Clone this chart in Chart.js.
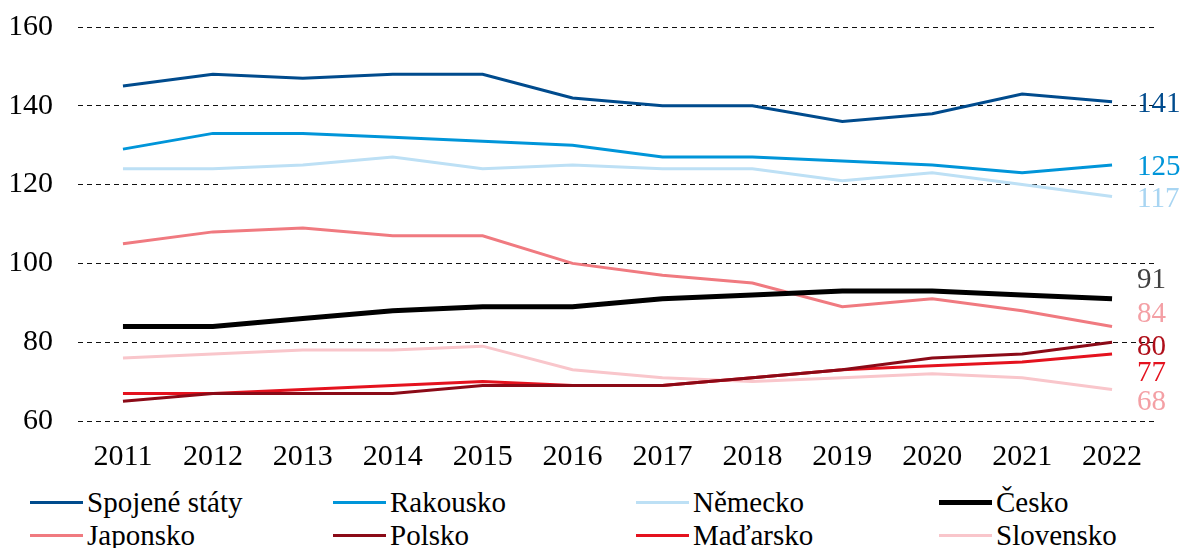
<!DOCTYPE html>
<html>
<head>
<meta charset="utf-8">
<script src="https://cdn.jsdelivr.net/npm/chart.js@4.4.0/dist/chart.umd.min.js"></script>
<style>
    html, body { margin: 0; padding: 0; background: #fff; }
    #wrap { position: relative; width: 1184px; height: 548px; overflow: hidden; }
    #box { position: absolute; left: 0; top: 0; width: 1184px; height: 485px; }
    #legend {
        position: absolute; left: 30px; top: 486px;
        display: grid; grid-template-columns: repeat(4, 303px); grid-auto-rows: 33px;
        font-family: 'Liberation Serif', serif; font-size: 29px; color: #000;
    }
    .item { display: flex; align-items: center; white-space: nowrap; }
    .swatch { width: 53px; margin-right: 4px; }
</style>
</head>
<body>
<div id="wrap">
    <div id="box"><canvas id="chart"></canvas></div>
    <div id="legend"></div>
</div>
<script>
const years = ['2011', '2012', '2013', '2014', '2015', '2016', '2017', '2018', '2019', '2020', '2021', '2022'];

const spojeneStaty = [145, 148, 147, 148, 148, 142, 140, 140, 136, 138, 143, 141];
const rakousko = [129, 133, 133, 132, 131, 130, 127, 127, 126, 125, 123, 125];
const nemecko = [124, 124, 125, 127, 124, 125, 124, 124, 121, 123, 120, 117];
const cesko = [84, 84, 86, 88, 89, 89, 91, 92, 93, 93, 92, 91];
const japonsko = [105, 108, 109, 107, 107, 100, 97, 95, 89, 91, 88, 84];
const polsko = [65, 67, 67, 67, 69, 69, 69, 71, 73, 76, 77, 80];
const madarsko = [67, 67, 68, 69, 70, 69, 69, 71, 73, 74, 75, 77];
const slovensko = [76, 77, 78, 78, 79, 73, 71, 70, 71, 72, 71, 68];

const yTicks = [60, 80, 100, 120, 140, 160];

const FONT = "'Liberation Serif', serif";

// series: label, data, line colour, end-label colour, width, end-label shift (px)
const series = [
    { label: 'Spojené státy', data: spojeneStaty, color: '#004b8d', tag: '#004b8d', width: 3, shift: 3 },
    { label: 'Rakousko', data: rakousko, color: '#0095d9', tag: '#0095d9', width: 3, shift: 2 },
    { label: 'Německo', data: nemecko, color: '#bde0f5', tag: '#a8d5f2', width: 3, shift: 3 },
    { label: 'Česko', data: cesko, color: '#000000', tag: '#404040', width: 5, shift: -18 },
    { label: 'Japonsko', data: japonsko, color: '#f07a80', tag: '#f4a0a5', width: 3, shift: -12 },
    { label: 'Polsko', data: polsko, color: '#8b0a17', tag: '#b00f1a', width: 3, shift: 5 },
    { label: 'Maďarsko', data: madarsko, color: '#e4121e', tag: '#e4121e', width: 3, shift: 19 },
    { label: 'Slovensko', data: slovensko, color: '#f9c6cb', tag: '#f4a0a5', width: 3, shift: 13 }
];

const endLabels = {
    id: 'endLabels',
    afterDatasetsDraw(chart) {
        const { ctx } = chart;
        ctx.save();
        ctx.font = `29px ${FONT}`;
        ctx.textBaseline = 'middle';
        ctx.textAlign = 'left';
        series.forEach((s, i) => {
            const meta = chart.getDatasetMeta(i);
            const last = meta.data[meta.data.length - 1];
            if (!last) return;
            ctx.fillStyle = s.tag;
            ctx.fillText(String(s.data[s.data.length - 1]), last.x + 25, last.y + s.shift);
        });
        ctx.restore();
    }
};

const chart = new Chart(document.getElementById('chart'), {
    type: 'line',
    data: {
        labels: years,
        datasets: series.map((s, i) => ({
            label: s.label,
            data: s.data,
            borderColor: s.color,
            backgroundColor: s.color,
            borderWidth: s.width,
            pointRadius: 0,
            tension: 0,
            fill: false,
            order: i
        }))
    },
    options: {
        responsive: true,
        maintainAspectRatio: false,
        animation: false,
        layout: { padding: { left: 11, right: 27, top: 0, bottom: 0 } },
        scales: {
            x: {
                offset: true,
                grid: { display: false },
                border: { display: false },
                ticks: { color: '#000', font: { family: FONT, size: 30 }, padding: 10, maxRotation: 0 }
            },
            y: {
                min: 60,
                max: 160,
                afterBuildTicks: (axis) => { axis.ticks = yTicks.map((v) => ({ value: v })); },
                afterFit: (axis) => {
                    axis.width = 67;
                    axis.paddingTop = 27;
                },
                grid: { color: '#111', lineWidth: 1, drawTicks: false },
                border: { display: false, dash: [5, 4] },
                ticks: { color: '#000', font: { family: FONT, size: 30 }, padding: 25 }
            }
        },
        plugins: {
            legend: { display: false },
            tooltip: { enabled: false }
        }
    },
    plugins: [endLabels]
});

const legendEl = document.getElementById('legend');
series.forEach((s) => {
    const item = document.createElement('div');
    item.className = 'item';
    const sw = document.createElement('span');
    sw.className = 'swatch';
    sw.style.height = s.width + 'px';
    sw.style.background = s.color;
    const tx = document.createElement('span');
    tx.textContent = s.label;
    item.appendChild(sw);
    item.appendChild(tx);
    legendEl.appendChild(item);
});
</script>
</body>
</html>
